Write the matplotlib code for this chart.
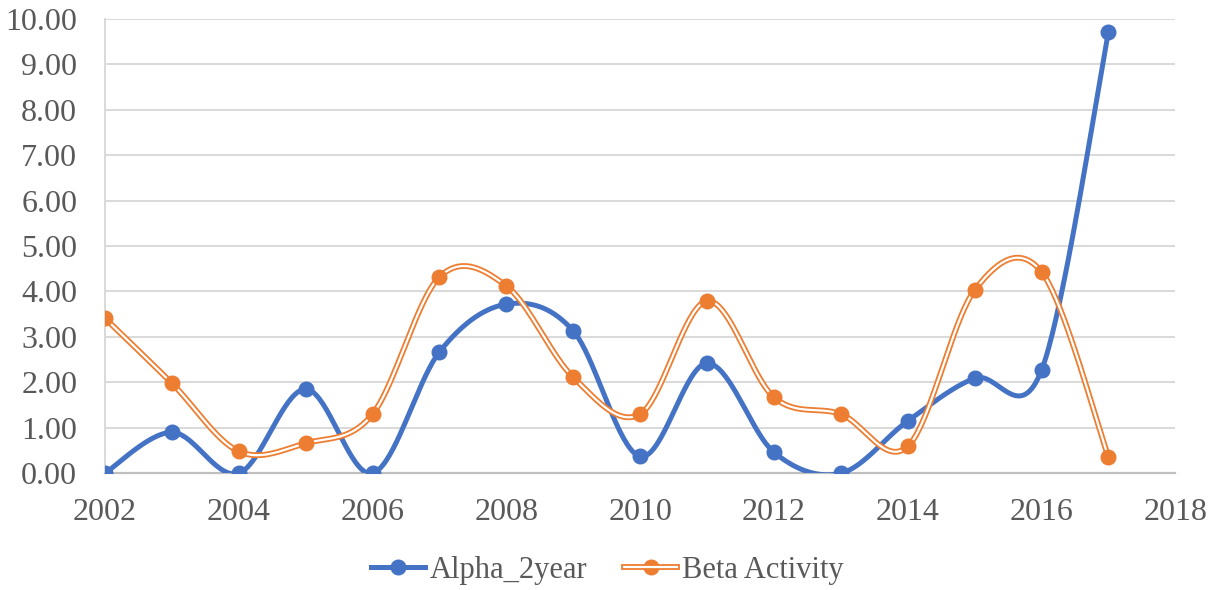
import numpy as np
import matplotlib
matplotlib.use("Agg")
import matplotlib.pyplot as plt
from matplotlib.lines import Line2D

years = [2002, 2003, 2004, 2005, 2006, 2007, 2008, 2009, 2010,
         2011, 2012, 2013, 2014, 2015, 2016, 2017]
alpha_2year = [0.00, 0.90, 0.00, 1.85, 0.00, 2.67, 3.72, 3.13, 0.37,
               2.42, 0.46, 0.00, 1.15, 2.09, 2.27, 9.71]
beta_activity = [3.41, 1.98, 0.48, 0.66, 1.30, 4.32, 4.12, 2.11, 1.30,
                 3.79, 1.67, 1.30, 0.59, 4.03, 4.43, 0.35]

BLUE = "#4472C4"
ORANGE = "#ED7D31"
GREY_TXT = "#595959"


def smooth(x, y, n=40):
    """Excel-like smoothed line (Catmull-Rom through the points)"""
    x = np.asarray(x, float)
    y = np.asarray(y, float)
    px = np.concatenate([[x[0]], x, [x[-1]]])
    py = np.concatenate([[y[0]], y, [y[-1]]])
    xs, ys = [], []
    for i in range(1, len(px) - 2):
        p0x, p1x, p2x, p3x = px[i - 1], px[i], px[i + 1], px[i + 2]
        p0y, p1y, p2y, p3y = py[i - 1], py[i], py[i + 1], py[i + 2]
        c1x, c1y = p1x + (p2x - p0x) / 6, p1y + (p2y - p0y) / 6
        c2x, c2y = p2x - (p3x - p1x) / 6, p2y - (p3y - p1y) / 6
        t = np.linspace(0, 1, n)
        b0, b1, b2, b3 = (1 - t) ** 3, 3 * (1 - t) ** 2 * t, 3 * (1 - t) * t ** 2, t ** 3
        xs.append(b0 * p1x + b1 * c1x + b2 * c2x + b3 * p2x)
        ys.append(b0 * p1y + b1 * c1y + b2 * c2y + b3 * p2y)
    return np.concatenate(xs), np.concatenate(ys)


plt.rcParams["font.family"] = ["Liberation Serif", "DejaVu Serif"]

fig = plt.figure(figsize=(12.15, 5.9), dpi=100)
ax = fig.add_axes([0.0864, 0.198, 0.881, 0.77])

# blue solid smooth line
sx, sy = smooth(years, alpha_2year)
ax.plot(sx, sy, color=BLUE, lw=3.6, solid_capstyle="round", zorder=3)
ax.plot(years, alpha_2year, "o", color=BLUE, ms=10.5, zorder=4)

# orange double line
bx, by = smooth(years, beta_activity)
ax.plot(bx, by, color=ORANGE, lw=4.2, zorder=3)
ax.plot(bx, by, color="white", lw=1.6, zorder=3)
ax.plot(years, beta_activity, "o", color=ORANGE, ms=10.5, zorder=4)

ax.set_xlim(2002, 2018)
ax.set_ylim(0, 10)
ax.set_xticks(range(2002, 2019, 2))
ax.set_yticks(range(0, 11))
ax.set_yticklabels([f"{v:.2f}" for v in range(0, 11)])
ax.tick_params(length=0, labelsize=23, colors=GREY_TXT)
ax.tick_params(axis="y", pad=20)
ax.tick_params(axis="x", pad=18)

ax.grid(axis="y", color="#d9d9d9", lw=1.4)
ax.set_axisbelow(True)
for s in ["top", "right"]:
    ax.spines[s].set_visible(False)
ax.spines["left"].set_color("#d9d9d9")
ax.spines["left"].set_linewidth(1.4)
ax.spines["bottom"].set_color("#bfbfbf")
ax.spines["bottom"].set_linewidth(1.6)

# legend
h1 = Line2D([], [], color=BLUE, lw=3.6, marker="o", ms=10.5)
h2a = Line2D([], [], color=ORANGE, lw=4.2, marker="o", ms=10.5)
h2b = Line2D([], [], color="white", lw=1.6)
fig.legend([h1, (h2a, h2b)], ["Alpha_2year", "Beta Activity"],
           loc="center", bbox_to_anchor=(0.5, 0.033), ncol=2, frameon=False,
           fontsize=22, labelcolor=GREY_TXT, handlelength=1.75,
           handletextpad=0.15, columnspacing=1.2)

fig.savefig("out.png", dpi=100)
